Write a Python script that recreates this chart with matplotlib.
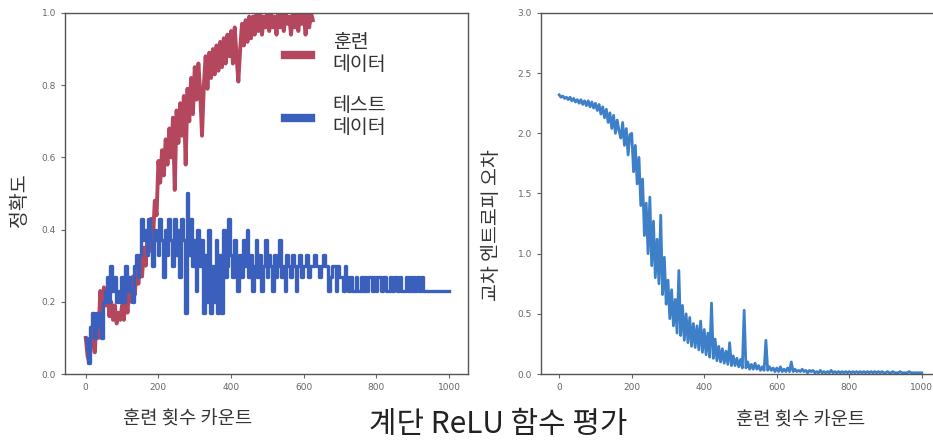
import numpy as np
import matplotlib
matplotlib.use("Agg")
import matplotlib.pyplot as plt

plt.rcParams["font.family"] = ["Noto Sans CJK KR", "DejaVu Sans"]

# training steps (every 5th count)
steps = np.arange(0, 1001, 5)

# train accuracy (0 .. 625)
train_acc = [
    0.10, 0.05, 0.03, 0.09, 0.14, 0.06, 0.16, 0.10, 0.23, 0.15, 0.24, 0.19, 0.23, 0.16, 0.20, 0.15, 0.19, 0.14, 0.17, 0.15,
    0.19, 0.15, 0.22, 0.17, 0.25, 0.20, 0.27, 0.22, 0.29, 0.25, 0.32, 0.27, 0.35, 0.30, 0.39, 0.34, 0.43, 0.37, 0.48, 0.44,
    0.59, 0.53, 0.62, 0.55, 0.65, 0.58, 0.68, 0.60, 0.71, 0.51, 0.73, 0.64, 0.75, 0.66, 0.77, 0.58, 0.79, 0.70, 0.82, 0.72,
    0.85, 0.76, 0.86, 0.78, 0.66, 0.80, 0.88, 0.79, 0.89, 0.82, 0.90, 0.83, 0.91, 0.84, 0.92, 0.85, 0.93, 0.86, 0.94, 0.88,
    0.95, 0.86, 0.96, 0.88, 0.81, 0.90, 0.97, 0.91, 0.98, 0.92, 0.99, 0.93, 0.99, 0.94, 1.00, 0.95, 1.00, 0.94, 0.99, 0.96,
    1.00, 0.95, 1.00, 0.96, 0.99, 0.94, 1.00, 0.96, 1.00, 0.95, 1.00, 0.97, 0.99, 0.94, 1.00, 0.96, 1.00, 0.95, 1.00, 0.97,
    1.00, 0.94, 1.00, 0.96, 1.00, 0.98,
]

# test accuracy (0 .. 1000)
test_acc = [
    0.10, 0.07, 0.03, 0.13, 0.17, 0.10, 0.17, 0.13, 0.17, 0.10, 0.20, 0.23, 0.27, 0.20, 0.30, 0.23, 0.27, 0.20, 0.23, 0.20,
    0.27, 0.20, 0.30, 0.23, 0.27, 0.23, 0.20, 0.30, 0.33, 0.27, 0.33, 0.43, 0.37, 0.40, 0.33, 0.43, 0.37, 0.30, 0.40, 0.37,
    0.33, 0.43, 0.37, 0.27, 0.40, 0.33, 0.43, 0.37, 0.30, 0.43, 0.33, 0.40, 0.27, 0.43, 0.37, 0.17, 0.50, 0.33, 0.43, 0.30,
    0.37, 0.23, 0.40, 0.30, 0.37, 0.17, 0.33, 0.20, 0.40, 0.17, 0.30, 0.20, 0.37, 0.17, 0.33, 0.17, 0.40, 0.27, 0.30, 0.43,
    0.33, 0.27, 0.37, 0.30, 0.23, 0.33, 0.27, 0.37, 0.30, 0.40, 0.27, 0.33, 0.23, 0.30, 0.37, 0.27, 0.33, 0.23, 0.30, 0.37,
    0.27, 0.33, 0.30, 0.23, 0.33, 0.27, 0.30, 0.37, 0.27, 0.30, 0.23, 0.33, 0.30, 0.27, 0.33, 0.30, 0.23, 0.30, 0.33, 0.27,
    0.30, 0.30, 0.33, 0.27, 0.30, 0.30, 0.33, 0.30, 0.30, 0.27, 0.30, 0.33, 0.30, 0.30, 0.23, 0.27, 0.30, 0.30, 0.23, 0.30,
    0.27, 0.27, 0.23, 0.30, 0.27, 0.23, 0.27, 0.23, 0.23, 0.27, 0.23, 0.23, 0.27, 0.23, 0.27, 0.23, 0.27, 0.27, 0.23, 0.27,
    0.23, 0.27, 0.27, 0.23, 0.27, 0.27, 0.23, 0.23, 0.27, 0.23, 0.27, 0.27, 0.23, 0.27, 0.23, 0.23, 0.23, 0.27, 0.23, 0.27,
    0.23, 0.27, 0.23, 0.27, 0.23, 0.27, 0.23, 0.23, 0.23, 0.23, 0.23, 0.23, 0.23, 0.23, 0.23, 0.23, 0.23, 0.23, 0.23, 0.23,
    0.23,
]

# cross-entropy loss (0 .. 1000)
loss = [
    2.32, 2.30, 2.31, 2.29, 2.30, 2.28, 2.30, 2.27, 2.29, 2.26, 2.28, 2.25, 2.28, 2.24, 2.27, 2.23, 2.27, 2.22, 2.26, 2.21,
    2.25, 2.19, 2.24, 2.16, 2.22, 2.13, 2.20, 2.09, 2.17, 2.04, 2.15, 2.00, 2.11, 2.02, 1.96, 2.09, 1.90, 2.04, 1.82, 1.99,
    2.00, 1.68, 1.90, 1.58, 1.80, 1.40, 1.62, 1.15, 1.42, 1.00, 1.47, 0.90, 1.27, 0.80, 1.12, 0.75, 1.32, 0.66, 0.97, 0.58,
    0.78, 0.46, 0.70, 0.40, 0.62, 0.34, 0.86, 0.32, 0.57, 0.28, 0.50, 0.26, 0.47, 0.23, 0.42, 0.22, 0.40, 0.20, 0.44, 0.18,
    0.37, 0.16, 0.34, 0.14, 0.59, 0.13, 0.29, 0.11, 0.23, 0.10, 0.21, 0.09, 0.19, 0.08, 0.26, 0.07, 0.15, 0.07, 0.13, 0.06,
    0.12, 0.05, 0.53, 0.05, 0.10, 0.04, 0.08, 0.04, 0.09, 0.04, 0.07, 0.03, 0.06, 0.03, 0.28, 0.03, 0.06, 0.03, 0.05, 0.02,
    0.05, 0.02, 0.06, 0.02, 0.04, 0.02, 0.05, 0.02, 0.10, 0.02, 0.04, 0.02, 0.03, 0.02, 0.04, 0.02, 0.03, 0.01, 0.03, 0.02,
    0.03, 0.01, 0.02, 0.01, 0.03, 0.01, 0.02, 0.01, 0.02, 0.01, 0.03, 0.01, 0.02, 0.01, 0.02, 0.01, 0.02, 0.01, 0.02, 0.01,
    0.02, 0.01, 0.02, 0.01, 0.02, 0.01, 0.02, 0.01, 0.02, 0.01, 0.02, 0.01, 0.02, 0.01, 0.02, 0.01, 0.02, 0.01, 0.02, 0.01,
    0.01, 0.02, 0.01, 0.01, 0.02, 0.01, 0.01, 0.01, 0.02, 0.01, 0.01, 0.01, 0.01, 0.02, 0.01, 0.01, 0.01, 0.01, 0.01, 0.01,
    0.01,
]

legend_labels = ["훈련\n데이터", "테스트\n데이터"]

fig = plt.figure(figsize=(9.33, 4.4), dpi=100)
ax1 = fig.add_axes([0.0697, 0.15, 0.4319, 0.8205])
ax2 = fig.add_axes([0.5799, 0.15, 0.4276, 0.8205])

ax1.plot(steps[:len(train_acc)], train_acc, color="#b4475e", linewidth=2.8, label=legend_labels[0])
ax1.plot(steps, test_acc, color="#3b5fbd", linewidth=2.4, drawstyle="steps-mid", label=legend_labels[1])
ax1.set_xlim(-57, 1052)
ax1.set_ylim(0, 1.0)
ax1.set_yticks([0.0, 0.2, 0.4, 0.6, 0.8, 1.0])

ax2.plot(steps, loss, color="#3d80c8", linewidth=2.0)
ax2.set_xlim(-50, 1050)
ax2.set_ylim(0, 3.0)
ax2.set_yticks([0.0, 0.5, 1.0, 1.5, 2.0, 2.5, 3.0])

for ax in (ax1, ax2):
    ax.set_xticks([0, 200, 400, 600, 800, 1000])
    ax.tick_params(labelsize=6.5, labelcolor="#666666", color="#666666", length=3, width=0.8)
    for s in ax.spines.values():
        s.set_color("#555555")
        s.set_linewidth(1.0)
    for lab in ax.get_xticklabels() + ax.get_yticklabels():
        lab.set_family("DejaVu Sans")

leg = ax1.legend(loc="upper left", bbox_to_anchor=(0.546, 0.948), frameon=False,
                 fontsize=14, handlelength=1.35, handletextpad=1.1,
                 labelspacing=1.0, borderpad=0, borderaxespad=0)
for h in leg.get_lines():
    h.set_linewidth(6)
for t in leg.get_texts():
    t.set_color("#333333")
    t.set_linespacing(1.1)

fig.text(20 / 933, 1 - 200 / 440, "정확도", rotation=90, ha="center", va="center",
         fontsize=14, color="#333333")
fig.text(492 / 933, 1 - 225 / 440, "교차 엔트로피 오차", rotation=90, ha="center", va="center",
         fontsize=14, color="#333333")
fig.text(188 / 933, 1 - 419 / 440, "훈련 횟수 카운트", ha="center", va="center",
         fontsize=13.5, color="#333333")
fig.text(801 / 933, 1 - 420 / 440, "훈련 횟수 카운트", ha="center", va="center",
         fontsize=13.5, color="#333333")
fig.text(498 / 933, 1 - 409 / 440, "계단 ReLU 함수 평가", ha="center", va="top",
         fontsize=21.5, color="#222222")

fig.savefig("out.png", dpi=100)
